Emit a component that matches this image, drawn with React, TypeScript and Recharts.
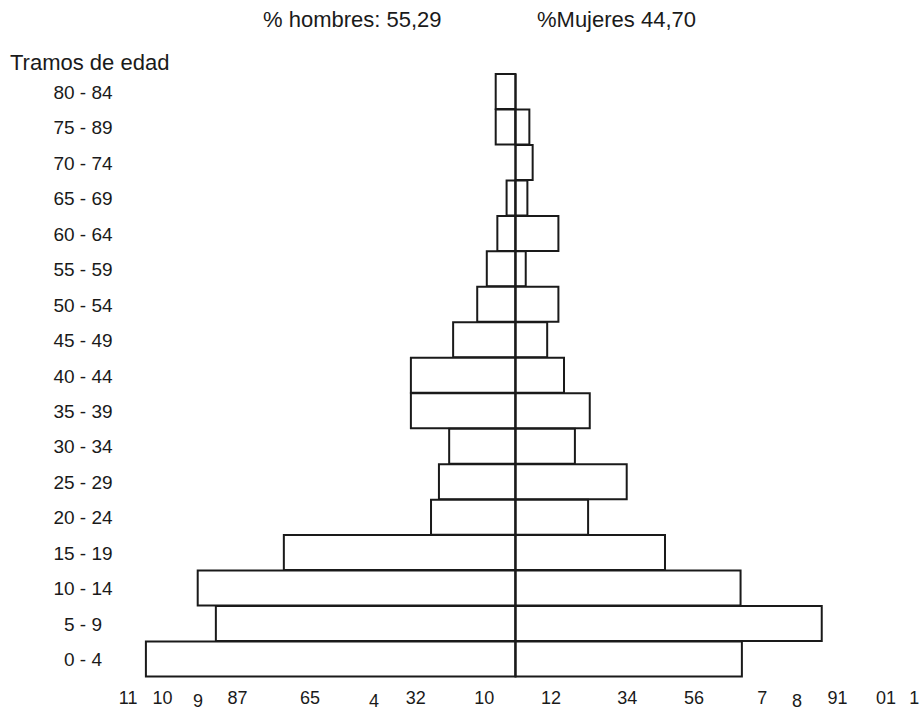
import { Bar, BarChart, ReferenceLine, XAxis, YAxis } from "recharts";

const AGE_GROUPS = [
  "80 - 84", "75 - 89", "70 - 74", "65 - 69", "60 - 64", "55 - 59", "50 - 54", "45 - 49", "40 - 44",
  "35 - 39", "30 - 34", "25 - 29", "20 - 24", "15 - 19", "10 - 14", "5 - 9", "0 - 4",
];
const MEN = [0.6, 0.6, 0, 0.27, 0.55, 0.87, 1.16, 1.89, 3.17, 3.17, 2.01, 2.32, 2.56, 7.02, 9.63, 9.08, 11.2];
const WOMEN = [0, 0.42, 0.52, 0.36, 1.3, 0.31, 1.3, 0.96, 1.47, 2.25, 1.8, 3.37, 2.2, 4.53, 6.82, 9.28, 6.86];

// bottom labels as they appear in the original (garbled spacing)
const X_TICKS = [-11.74, -10.7, -9.62, -8.42, -6.23, -4.29, -3.02, -0.95, 1.08, 3.39, 5.41, 7.48, 8.53, 9.76, 11.23, 12.08];
const X_TICK_LABELS = ["11", "10", "9", "87", "65", "4", "32", "10", "12", "34", "56", "7", "8", "91", "01", "1"];
const LOWERED = new Set([2, 5, 12]);

const data = AGE_GROUPS.map((age, i) => ({ age, men: -MEN[i], women: WOMEN[i] }));

const FONT = "'Liberation Sans', Arial, sans-serif";
const INK = "#1a1a1a";

function XTick(props: any) {
  const { x, y, index } = props;
  return (
    <text x={x} y={y} dy={LOWERED.has(index) ? 22 : 19} textAnchor="middle" fontSize={18} fontFamily={FONT} fill={INK}>
      {X_TICK_LABELS[index]}
    </text>
  );
}

function YTick(props: any) {
  const { y, payload } = props;
  return (
    <text x={83} y={y} dy={7} textAnchor="middle" fontSize={19} fontFamily={FONT} fill={INK}>
      {payload.value}
    </text>
  );
}

export default function App() {
  return (
    <div style={{ position: "absolute", left: 0, top: 0, width: 923, height: 711, background: "#fff" }}>
      <BarChart
        width={923}
        height={711}
        data={data}
        layout="vertical"
        stackOffset="sign"
        barCategoryGap={0}
        margin={{ top: 74, right: 1.6, bottom: 0, left: 0 }}
      >
        <XAxis
          type="number"
          domain={[-12, 12.3]}
          ticks={X_TICKS}
          interval={0}
          axisLine={false}
          tickLine={false}
          height={34}
          tick={<XTick />}
        />
        <YAxis type="category" dataKey="age" width={119.5} axisLine={false} tickLine={false} interval={0} tick={<YTick />} />
        <Bar dataKey="men" stackId="a" fill="#fff" stroke={INK} strokeWidth={2} isAnimationActive={false} />
        <Bar dataKey="women" stackId="a" fill="#fff" stroke={INK} strokeWidth={2} isAnimationActive={false} />
        <ReferenceLine x={0} stroke={INK} strokeWidth={2} />
      </BarChart>
      <svg width={923} height={80} style={{ position: "absolute", left: 0, top: 0, pointerEvents: "none" }}>
        <text x={263} y={27} fontSize={22} fontFamily={FONT} fill={INK}>% hombres: 55,29</text>
        <text x={537} y={27} fontSize={22} fontFamily={FONT} fill={INK}>%Mujeres 44,70</text>
        <text x={10} y={70} fontSize={22} fontFamily={FONT} fill={INK}>Tramos de edad</text>
      </svg>
    </div>
  );
}
